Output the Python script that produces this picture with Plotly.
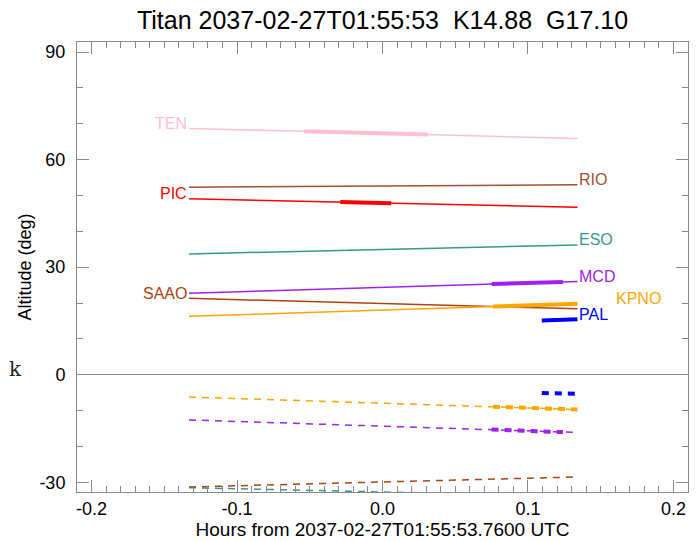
import plotly.graph_objects as go

# ---- data ----
stations = ["TEN", "RIO", "PIC", "ESO", "MCD", "SAAO", "KPNO", "PAL"]
colors = {"TEN": "#FFC0CB", "RIO": "#A0522D", "PIC": "#FF0000", "ESO": "#339988",
          "MCD": "#A020F0", "SAAO": "#B0420F", "KPNO": "#FFA500", "PAL": "#0000FF"}

# altitude lines (solid): hours, altitude
alt_x = {"TEN": [-0.133, 0.134], "RIO": [-0.133, 0.134], "PIC": [-0.133, 0.134],
         "ESO": [-0.133, 0.134], "MCD": [-0.133, 0.134], "SAAO": [-0.133, 0.134],
         "KPNO": [-0.133, 0.134], "PAL": [0.1095, 0.134]}
alt_y = {"TEN": [68.7, 65.9], "RIO": [52.3, 53.0], "PIC": [49.1, 46.7],
         "ESO": [33.7, 36.2], "MCD": [22.7, 26.0], "SAAO": [21.3, 18.4],
         "KPNO": [16.3, 19.8], "PAL": [15.1, 15.5]}

# thick (observable) segments on the altitude lines
thick_x = {"TEN": [-0.054, 0.031], "PIC": [-0.029, 0.006], "MCD": [0.075, 0.124],
           "KPNO": [0.076, 0.134], "PAL": [0.1095, 0.134]}
thick_y = {"TEN": [67.9, 67.0], "PIC": [48.2, 47.8], "MCD": [25.3, 25.9],
           "KPNO": [19.0, 19.8], "PAL": [15.1, 15.5]}

# dashed lines (negative values)
dash_x = {"KPNO": [-0.133, 0.134], "MCD": [-0.133, 0.134], "PAL": [0.1095, 0.134],
          "SAAO": [-0.133, 0.134], "ESO": [-0.133, 0.134]}
dash_y = {"KPNO": [-6.2, -9.7], "MCD": [-12.6, -16.1], "PAL": [-5.1, -5.3],
          "SAAO": [-31.3, -28.5], "ESO": [-31.5, -33.9]}
dash_thick_x = {"KPNO": [0.076, 0.134], "MCD": [0.075, 0.124], "PAL": [0.1095, 0.134]}
dash_thick_y = {"KPNO": [-8.9, -9.7], "MCD": [-15.3, -16.0], "PAL": [-5.1, -5.3]}

# label positions
label_left = {"TEN": 68.7, "PIC": 49.1, "SAAO": 21.3}
label_right = {"RIO": 53.0, "ESO": 36.2, "MCD": 26.0, "PAL": 15.5}
kpno_label = (0.159, 21.3)

# axes
x_range = [-0.21, 0.21]
y_range = [-32.7, 92.8]
x_tickvals = [-0.2, -0.1, 0.0, 0.1, 0.2]
x_ticktext = ["-0.2", "-0.1", "0.0", "0.1", "0.2"]
y_tickvals = [-30, 0, 30, 60, 90]
y_ticktext = ["-30", "0", "30", "60", "90"]

title = "Titan 2037-02-27T01:55:53\u00a0\u00a0K14.88\u00a0\u00a0G17.10"
xtitle = "Hours from 2037-02-27T01:55:53.7600 UTC"
ytitle = "Altitude (deg)"

fig = go.Figure()

for s in stations:
    c = colors[s]
    if s in alt_x and s != "PAL":
        fig.add_trace(go.Scatter(x=alt_x[s], y=alt_y[s], mode="lines",
                                 line=dict(color=c, width=1.5), showlegend=False))
    if s in thick_x:
        fig.add_trace(go.Scatter(x=thick_x[s], y=thick_y[s], mode="lines",
                                 line=dict(color=c, width=4), showlegend=False))
    if s in dash_x and s != "PAL":
        fig.add_trace(go.Scatter(x=dash_x[s], y=dash_y[s], mode="lines",
                                 line=dict(color=c, width=1.5, dash="7px,6px"),
                                 showlegend=False))
    if s in dash_thick_x:
        fig.add_trace(go.Scatter(x=dash_thick_x[s], y=dash_thick_y[s], mode="lines",
                                 line=dict(color=c, width=4, dash="7px,6px"),
                                 showlegend=False))

# invisible trace to anchor the mirrored (top/right) tick axes
fig.add_trace(go.Scatter(x=[None], y=[None], xaxis="x2", yaxis="y2",
                         showlegend=False, hoverinfo="skip"))

annotations = []
for s, yv in label_left.items():
    annotations.append(dict(x=alt_x[s][0], y=yv, xref="x", yref="y", text=s,
                            showarrow=False, xanchor="right", yanchor="middle",
                            yshift=5, font=dict(color=colors[s], size=16)))
for s, yv in label_right.items():
    annotations.append(dict(x=alt_x[s][1], y=yv, xref="x", yref="y", text=s,
                            showarrow=False, xanchor="left", yanchor="middle",
                            yshift=5, font=dict(color=colors[s], size=16)))
annotations.append(dict(x=kpno_label[0], y=kpno_label[1], xref="x", yref="y",
                        text="KPNO", showarrow=False, xanchor="left",
                        yanchor="middle", font=dict(color=colors["KPNO"], size=16)))
annotations.append(dict(x=-0.1007, y=1.5, xref="paper", yref="y", text="k",
                        showarrow=False, xanchor="center", yanchor="middle",
                        font=dict(family="DejaVu Serif", size=20, color="#222222")))

GRAY = "#888888"
tick_common = dict(ticks="inside", ticklen=12, tickcolor=GRAY, tickwidth=1,
                   showgrid=False, automargin=False, tickmode="array")
x_minor = dict(tickmode="linear", tick0=0, dtick=0.01, ticklen=6, ticks="inside",
               tickcolor=GRAY, showgrid=False)
y_minor = dict(tickmode="linear", tick0=0, dtick=10, ticklen=6, ticks="inside",
               tickcolor=GRAY, showgrid=False)

fig.update_layout(
    width=700, height=541,
    margin=dict(l=77, r=12, t=42, b=49, autoexpand=False),
    paper_bgcolor="white", plot_bgcolor="white",
    font=dict(family="Liberation Sans, Arial, sans-serif", color="black"),
    title=dict(text=title, x=(77 + 688) / 2 / 700, xanchor="center",
               y=1 - 20 / 541, yanchor="middle", yref="container",
               font=dict(size=25, color="black")),
    xaxis=dict(range=x_range, tickvals=x_tickvals, ticktext=x_ticktext,
               zeroline=False, showline=True, linecolor=GRAY, linewidth=1, mirror=True,
               minor=x_minor, tickfont=dict(size=18, color="black"),
               title=dict(text=xtitle, font=dict(size=19), standoff=4),
               **tick_common),
    yaxis=dict(range=y_range, tickvals=y_tickvals, ticktext=y_ticktext,
               zeroline=True, zerolinecolor=GRAY, zerolinewidth=1,
               showline=True, linecolor=GRAY, linewidth=1, mirror=True,
               minor=y_minor, tickfont=dict(size=18, color="black"),
               ticklabelstandoff=7,
               title=dict(text=ytitle, font=dict(size=18), standoff=3),
               **tick_common),
    xaxis2=dict(range=x_range, overlaying="x", side="top", anchor="y",
                tickvals=x_tickvals, showticklabels=False, zeroline=False,
                showline=False, minor=x_minor, **tick_common),
    yaxis2=dict(range=y_range, overlaying="y", side="right", anchor="x",
                tickvals=y_tickvals, showticklabels=False, zeroline=False,
                showline=False, minor=y_minor, **tick_common),
    annotations=annotations,
)

fig.write_html("out.html", config={"displayModeBar": False},
               post_script="document.body.style.margin='0px';document.body.style.padding='0px';")
